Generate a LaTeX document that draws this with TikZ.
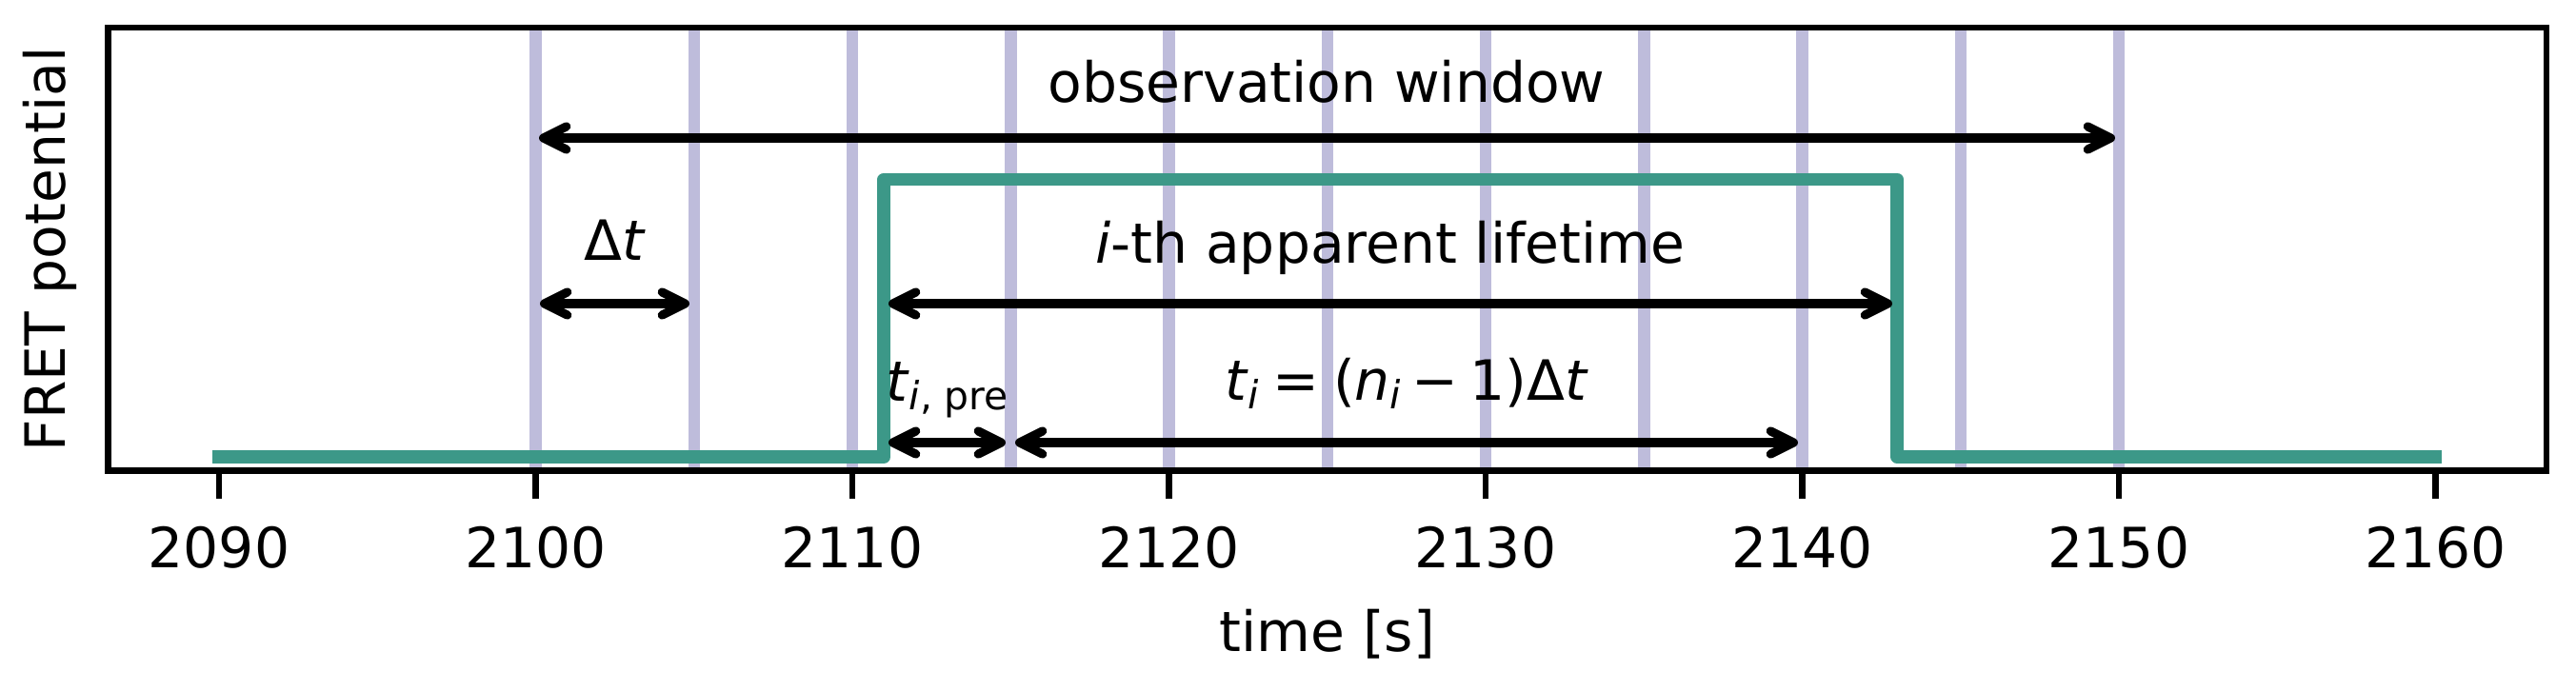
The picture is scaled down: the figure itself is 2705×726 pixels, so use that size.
\documentclass[tikz,border=0pt]{standalone}
\usepackage{fontspec}
\setmainfont{DejaVu Sans}
\usetikzlibrary{arrows.meta}
\definecolor{fretgreen}{RGB}{60,152,136}
\definecolor{gridpurple}{RGB}{190,188,219}
\newcommand{\sbs}[1]{\raisebox{-2pt}{\fontsize{9.8pt}{10pt}\selectfont #1}}
\begin{document}
\begin{tikzpicture}[x=0.24pt,y=-0.24pt,
  every node/.style={font=\fontsize{14pt}{16pt}\selectfont, inner sep=0pt},
  spine/.style={line width=1.6pt, black},
  gridline/.style={line width=3pt, gridpurple},
  signal/.style={line width=3.3pt, fretgreen, line join=round, line cap=rect},
  barb/.style={Straight Barb[length=5.8pt,width=5.8pt,line cap=round,line join=round]},
  dimarrow/.style={line width=2.2pt, black, {Straight Barb[length=5.8pt,width=5.8pt,line cap=round,line join=round]}-{Straight Barb[length=5.8pt,width=5.8pt,line cap=round,line join=round]}}]
\useasboundingbox (0,0) rectangle (2705,726);
% observation grid
\foreach \v in {2100,2105,...,2150} {
  \draw[gridline] ({230+(\v-2090)*33.25},29) -- ({230+(\v-2090)*33.25},494.5);
}
% signal
\coordinate (s0) at (230,480);
\coordinate (s1) at (928.25,480);
\coordinate (s2) at (928.25,188.5);
\coordinate (s3) at (1992.25,188.5);
\coordinate (s4) at (1992.25,480);
\coordinate (s5) at (2557.5,480);
\draw[signal] (s0) -- (s1) -- (s2) -- (s3) -- (s4) -- (s5);
% axes frame
\draw[spine] (113.7,29) rectangle (2674,494.5);
\foreach \v in {2090,2100,...,2160} {
  \draw[spine] ({230+(\v-2090)*33.25},494.5) -- ({230+(\v-2090)*33.25},524);
  \node[anchor=base] (tick\v) at ({230+(\v-2090)*33.25},597) {\v};
}
\node[anchor=base] (xlab) at (1394,685) {time [s]};
\node[rotate=90, anchor=base] (ylab) at (68,262) {FRET potential};
% dimension arrows
\coordinate (obsL) at (566,145);
\coordinate (obsR) at (2221,145);
\coordinate (dtL) at (567,319);
\coordinate (dtR) at (724,319);
\coordinate (lifeL) at (933,319);
\coordinate (lifeR) at (1987,319);
\coordinate (preL) at (933,465);
\coordinate (preR) at (1056,465);
\coordinate (tiL) at (1066,465);
\coordinate (tiR) at (1888,465);
\draw[dimarrow] (obsL) -- (obsR);
\draw[dimarrow] (dtL) -- (dtR);
\draw[dimarrow] (lifeL) -- (lifeR);
\draw[dimarrow] (preL) -- (preR);
\draw[dimarrow] (tiL) -- (tiR);
% labels
\node[anchor=base] (obs) at (1393,108) {observation window};
\node[anchor=base] (dt) at (645.5,274) {Δ\textit{t}};
\node[anchor=base] (life) at (1460,277) {\textit{i}-th apparent lifetime};
\node[anchor=base] (pre) at (994.5,422) {\textit{t}\sbs{\textit{i}, pre}};
\node[anchor=base] (ti) at (1477,421) {\textit{t}\sbs{\textit{i}}\hspace{.25em}=\hspace{.25em}(\textit{n}\sbs{\textit{i}}\hspace{.2em}−\hspace{.2em}1)Δ\textit{t}};
\end{tikzpicture}
\end{document}
